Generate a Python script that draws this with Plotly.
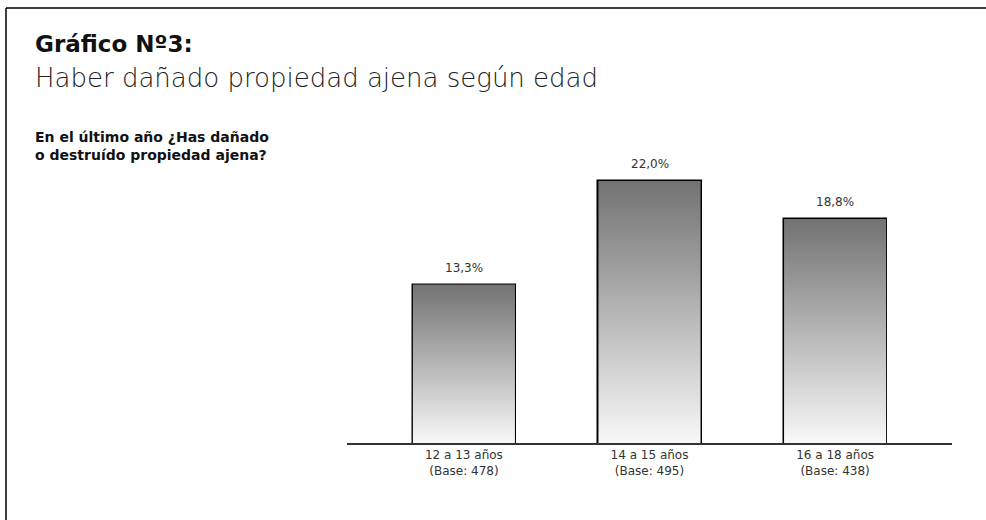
import plotly.graph_objects as go

categories = ["12 a 13 años", "14 a 15 años", "16 a 18 años"]
bases = [478, 495, 438]
values = [13.3, 22.0, 18.8]
value_labels = ["13,3%", "22,0%", "18,8%"]

FONT = "DejaVu Sans, sans-serif"
W, H = 986, 520
L, R, T, B = 347, 34, 100, 77
PW, PH = W - L - R, H - T - B
BAR_W = 0.55
YMAX = 28.8

def px_x(px):
    return (px - L) / PW

def px_y(py):
    return (H - B - py) / PH

xpos = list(range(len(categories)))
ticktext = [f"{c}<br>(Base: {b})" for c, b in zip(categories, bases)]

fig = go.Figure()

# gradient fills, built from the same data
for xi, v in zip(xpos, values):
    x0, x1 = xi - BAR_W / 2, xi + BAR_W / 2
    fig.add_trace(go.Scatter(
        x=[x0, x1, x1, x0, x0], y=[0, 0, v, v, 0],
        mode="lines", line=dict(width=0), fill="toself",
        fillgradient=dict(type="vertical",
                          colorscale=[[0, "#f8f8f8"], [1, "#727272"]]),
        hoverinfo="skip", showlegend=False,
    ))

fig.add_trace(go.Bar(
    x=xpos, y=values, width=BAR_W,
    marker=dict(color="rgba(0,0,0,0)", line=dict(color="#000000", width=2.5)),
    showlegend=False, hoverinfo="y",
))

annotations = [
    dict(text="<b>Gráfico Nº3:</b>", xref="paper", yref="paper",
         x=px_x(33), y=px_y(29), xanchor="left", yanchor="top",
         showarrow=False, font=dict(family=FONT, size=23, color="#111111")),
    dict(text="Haber dañado propiedad ajena según edad", xref="paper", yref="paper",
         x=px_x(33), y=px_y(61), xanchor="left", yanchor="top",
         showarrow=False, font=dict(family=FONT, size=26, color="#222222", weight=300)),
    dict(text="<b>En el último año ¿Has dañado<br>o destruído propiedad ajena?</b>",
         xref="paper", yref="paper", align="left",
         x=px_x(33), y=px_y(127), xanchor="left", yanchor="top",
         showarrow=False, font=dict(family=FONT, size=14, color="#111111")),
]
for xi, v, lab in zip(xpos, values, value_labels):
    annotations.append(dict(
        text=lab, x=xi, y=v, xref="x", yref="y", xanchor="center",
        yanchor="bottom", yshift=8, showarrow=False,
        font=dict(family=FONT, size=12, color="#333333")))

fig.update_layout(
    width=W, height=H,
    margin=dict(l=L, r=R, t=T, b=B),
    paper_bgcolor="white", plot_bgcolor="white",
    font=dict(family=FONT, color="#222222"),
    xaxis=dict(range=[-0.63, 2.63], tickvals=xpos, ticktext=ticktext,
               showgrid=False, zeroline=False, showline=True,
               linecolor="#333333", linewidth=1.5, ticks="",
               tickfont=dict(family=FONT, size=12, color="#333333")),
    yaxis=dict(range=[0, YMAX], visible=False, showgrid=False, zeroline=False),
    bargap=0,
    shapes=[
        dict(type="line", xref="paper", yref="paper",
             x0=px_x(6), x1=px_x(986), y0=px_y(8), y1=px_y(8),
             line=dict(color="#000000", width=1.5)),
        dict(type="line", xref="paper", yref="paper",
             x0=px_x(6), x1=px_x(6), y0=px_y(8), y1=px_y(520),
             line=dict(color="#000000", width=1.5)),
    ],
    annotations=annotations,
)

fig.write_html("out.html", config={"displayModeBar": False},
               post_script="document.body.style.margin='0';")
